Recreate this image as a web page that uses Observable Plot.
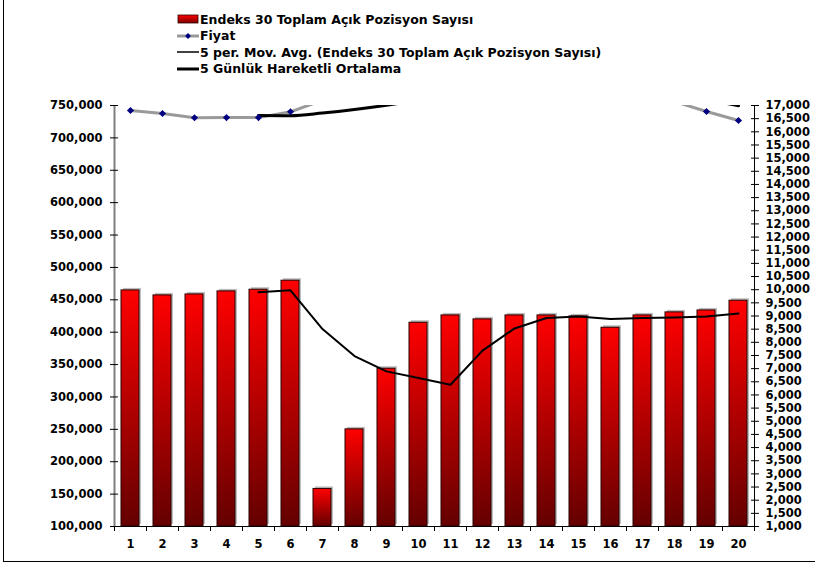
<!DOCTYPE html>
<html><head><meta charset="utf-8">
<script src="https://cdn.jsdelivr.net/npm/d3@7"></script>
<script src="https://cdn.jsdelivr.net/npm/@observablehq/plot@0.6"></script>
<style>
body{margin:0;background:#fff;}
#wrap{position:relative;width:815px;height:582px;overflow:hidden;font-family:"DejaVu Sans",Verdana,sans-serif;font-weight:bold;color:#000;}
#legend{position:absolute;left:177px;top:11px;font-size:12.5px;}
.item{display:flex;align-items:center;height:16.5px;white-space:nowrap;}
.item svg{margin-right:1px;}
#chart{position:absolute;left:0;top:90px;}
#bl{position:absolute;left:3px;top:0;width:1px;height:562px;background:#000}
#bb{position:absolute;left:3px;top:561px;width:812px;height:1px;background:#000}
</style></head>
<body>
<div id="wrap">
  <div id="bl"></div><div id="bb"></div>
  <div id="legend"></div>
  <div id="chart"></div>
</div>
<script>
// ---- data ----
const days = [1,2,3,4,5,6,7,8,9,10,11,12,13,14,15,16,17,18,19,20];
const openInterest = [464500,456800,458300,463000,465600,479500,158000,250000,343600,414600,425900,419800,425900,425900,424400,406900,425900,430600,433600,448600];
const openInterestMA = [null,null,null,null,461600,464600,404800,363100,339500,329200,318900,371500,405800,422000,424400,420200,421800,422500,424200,428800];
const price = [16810,16696,16532,16540,16540,16760,17200,17200,17350,17500,17700,17800,17900,17800,17600,17400,17200,17150,16772,16430];
const priceMA = [null,null,null,null,16624,16614,16715,16848,17010,17202,17390,17510,17650,17740,17760,17700,17580,17430,17224,16990];
const leftTicks = [100000,150000,200000,250000,300000,350000,400000,450000,500000,550000,600000,650000,700000,750000];
const rightTicks = [1000,1500,2000,2500,3000,3500,4000,4500,5000,5500,6000,6500,7000,7500,8000,8500,9000,9500,10000,10500,11000,11500,12000,12500,13000,13500,14000,14500,15000,15500,16000,16500,17000];
const legendLabels = ["Endeks 30 Toplam Açık Pozisyon Sayısı","Fiyat","5 per. Mov. Avg. (Endeks 30 Toplam Açık Pozisyon Sayısı)","5 Günlük Hareketli Ortalama"];

// secondary axis mapping (price -> left scale units)
const L0 = 100000, L1 = 750000, R0 = 1000, R1 = 17000;
const toLeft = v => L0 + (v - R0) * (L1 - L0) / (R1 - R0);
const fromLeft = v => R0 + (v - L0) * (R1 - R0) / (L1 - L0);
const fmt = d3.format(",.0f");

const rows = days.map((d, i) => ({
  day: d, oi: openInterest[i], oiMA: openInterestMA[i],
  price: toLeft(price[i]), priceMA: priceMA[i] == null ? null : toLeft(priceMA[i])
}));
const boundaries = d3.range(0.5, 20.51, 1);

const chart = Plot.plot({
  width: 815, height: 470,
  marginTop: 15, marginBottom: 34, marginLeft: 114, marginRight: 61,
  x: {domain: [0.5, 20.5], label: null},
  y: {domain: [L0, L1], label: null},
  style: {fontFamily: '"DejaVu Sans", Verdana, sans-serif', fontSize: "11.5px", fontWeight: "bold", color: "#000", background: "transparent", overflow: "visible"},
  marks: [
    // bar shadow
    Plot.rectY(rows, {x1: d => d.day - 0.5, x2: d => d.day + 0.5, y1: L0, y2: "oi", insetLeft: 7, insetRight: 7, fill: "#bdbdbd", dx: 2, dy: -2}),
    // bars
    Plot.rectY(rows, {x1: d => d.day - 0.5, x2: d => d.day + 0.5, y1: L0, y2: "oi", insetLeft: 7, insetRight: 7, fill: "url(#barGrad)", stroke: "#2a0000", strokeWidth: 1}),
    // axis lines
    Plot.ruleX([0.5], {stroke: "#808080", strokeWidth: 2}),
    Plot.ruleX([20.5], {stroke: "#000", strokeWidth: 1}),
    Plot.ruleY([L0], {stroke: "#000", strokeWidth: 1}),
    // moving average of open interest
    Plot.lineY(rows.filter(d => d.oiMA != null), {x: "day", y: "oiMA", stroke: "#000", strokeWidth: 2}),
    // price
    Plot.lineY(rows, {x: "day", y: "price", stroke: "#9a9a9a", strokeWidth: 3, clip: true}),
    Plot.lineY(rows.filter(d => d.priceMA != null), {x: "day", y: "priceMA", stroke: "#000", strokeWidth: 3, curve: "monotone-x", clip: true}),
    Plot.dot(rows, {x: "day", y: "price", symbol: "diamond2", r: 3.2, fill: "#000080", clip: true}),
    // left axis
    Plot.axisY({ticks: leftTicks, anchor: "left", tickSize: 8, dx: 4, tickFormat: () => "", stroke: "#000", label: null}),
    Plot.axisY({ticks: leftTicks, anchor: "left", tickSize: 0, tickPadding: 12, tickFormat: fmt, label: null}),
    // right axis
    Plot.axisY({ticks: rightTicks.map(toLeft), anchor: "right", tickSize: 8, dx: -4, tickFormat: () => "", stroke: "#000", label: null}),
    Plot.axisY({ticks: rightTicks.map(toLeft), anchor: "right", tickSize: 0, tickPadding: 11, tickFormat: v => fmt(fromLeft(v)), label: null}),
    // x axis
    Plot.axisX({ticks: boundaries, tickSize: 5, tickFormat: () => "", stroke: "#000", label: null}),
    Plot.axisX({ticks: days, tickSize: 0, tickPadding: 13, tickFormat: d => String(d), label: null})
  ]
});

// gradient definition for bars
const svg = d3.select(chart);
const defs = svg.insert("defs", ":first-child");
const g = defs.append("linearGradient").attr("id", "barGrad").attr("x1", 0).attr("y1", 0).attr("x2", 0).attr("y2", 1);
g.append("stop").attr("offset", "0%").attr("stop-color", "#ff0000");
g.append("stop").attr("offset", "100%").attr("stop-color", "#640000");
document.getElementById("chart").appendChild(chart);

// legend
const lg = d3.select("#legend");
legendLabels.forEach((label, i) => {
  const item = lg.append("div").attr("class", "item");
  const s = item.append("svg").attr("width", 22).attr("height", 12);
  if (i === 0) {
    const ld = s.append("defs").append("linearGradient").attr("id", "lgGrad").attr("x1", 0).attr("y1", 0).attr("x2", 0).attr("y2", 1);
    ld.append("stop").attr("offset", "0%").attr("stop-color", "#ff0000");
    ld.append("stop").attr("offset", "100%").attr("stop-color", "#7a0000");
    s.append("rect").attr("x", 1).attr("y", 2).attr("width", 20).attr("height", 8).attr("fill", "url(#lgGrad)").attr("stroke", "#300000").attr("stroke-width", 0.8);
  } else if (i === 1) {
    s.append("line").attr("x1", 0).attr("x2", 22).attr("y1", 6).attr("y2", 6).attr("stroke", "#9a9a9a").attr("stroke-width", 3);
    s.append("path").attr("d", d3.symbol(d3.symbolDiamond2, 22)()).attr("transform", "translate(11,6)").attr("fill", "#000080");
  } else if (i === 2) {
    s.append("line").attr("x1", 0).attr("x2", 22).attr("y1", 6).attr("y2", 6).attr("stroke", "#000").attr("stroke-width", 1.5);
  } else {
    s.append("line").attr("x1", 0).attr("x2", 22).attr("y1", 6).attr("y2", 6).attr("stroke", "#000").attr("stroke-width", 3);
  }
  item.append("span").text(label);
});
</script>
</body></html>
